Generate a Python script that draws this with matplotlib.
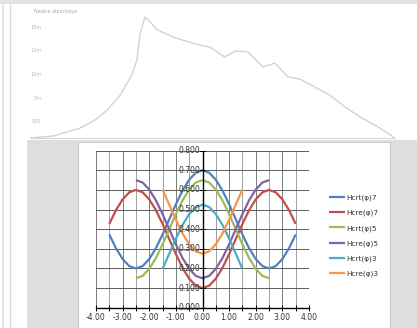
import matplotlib
matplotlib.use("Agg")
import matplotlib.pyplot as plt
from matplotlib.patches import Rectangle

W, H = 417, 328

# ---------------- data ----------------
# background (faded) chart
bg_x = [0, 6.3, 13.7, 17.8, 21.1, 24.7, 27.9, 29.3, 30.1, 31.5, 32.9, 34.8, 39.7, 45.2,
        49.3, 53.4, 56.2, 59.7, 63.8, 67.1, 70.7, 74.0, 78.1, 82.2, 86.3, 90.4, 95.9, 100.0]
bg_y = [14, 18, 35, 52, 73, 105, 148, 180, 233, 271, 261, 244, 227, 214,
        207, 186, 199, 197, 165, 173, 144, 139, 122, 105, 80, 59, 35, 14]
bg_ticks = [50, 100, 150, 200, 250]

# foreground chart
phi7 = [-3.5, -3.25, -3.0, -2.75, -2.5, -2.25, -2.0, -1.75, -1.5, -1.25, -1.0, -0.75, -0.5, -0.25,
        0.0, 0.25, 0.5, 0.75, 1.0, 1.25, 1.5, 1.75, 2.0, 2.25, 2.5, 2.75, 3.0, 3.25, 3.5]
hcrt7 = [0.373, 0.303, 0.248, 0.212, 0.200, 0.212, 0.248, 0.303, 0.373, 0.450, 0.527, 0.597, 0.652, 0.688,
         0.700, 0.688, 0.652, 0.597, 0.527, 0.450, 0.373, 0.303, 0.248, 0.212, 0.200, 0.212, 0.248, 0.303, 0.373]
hcre7 = [0.427, 0.497, 0.552, 0.588, 0.600, 0.588, 0.552, 0.497, 0.427, 0.350, 0.273, 0.203, 0.148, 0.112,
         0.100, 0.112, 0.148, 0.203, 0.273, 0.350, 0.427, 0.497, 0.552, 0.588, 0.600, 0.588, 0.552, 0.497, 0.427]

phi5 = [-2.5, -2.25, -2.0, -1.75, -1.5, -1.25, -1.0, -0.75, -0.5, -0.25,
        0.0, 0.25, 0.5, 0.75, 1.0, 1.25, 1.5, 1.75, 2.0, 2.25, 2.5]
hcrt5 = [0.150, 0.162, 0.198, 0.253, 0.323, 0.400, 0.477, 0.547, 0.602, 0.638,
         0.650, 0.638, 0.602, 0.547, 0.477, 0.400, 0.323, 0.253, 0.198, 0.162, 0.150]
hcre5 = [0.650, 0.638, 0.602, 0.547, 0.477, 0.400, 0.323, 0.253, 0.198, 0.162,
         0.150, 0.162, 0.198, 0.253, 0.323, 0.400, 0.477, 0.547, 0.602, 0.638, 0.650]

phi3 = [-1.5, -1.25, -1.0, -0.75, -0.5, -0.25, 0.0, 0.25, 0.5, 0.75, 1.0, 1.25, 1.5]
hcrt3 = [0.198, 0.275, 0.352, 0.422, 0.477, 0.513, 0.525, 0.513, 0.477, 0.422, 0.352, 0.275, 0.198]
hcre3 = [0.602, 0.525, 0.448, 0.378, 0.323, 0.287, 0.275, 0.287, 0.323, 0.378, 0.448, 0.525, 0.602]

labels = ["Hcrt(φ)7", "Hcre(φ)7", "Hcrt(φ)5", "Hcre(φ)5", "Hcrt(φ)3", "Hcre(φ)3"]
colors = ["#4F81BD", "#C0504D", "#9BBB59", "#8064A2", "#4BACC6", "#F79646"]
x_ticks = [-4, -3, -2, -1, 0, 1, 2, 3, 4]
y_ticks = [0.0, 0.1, 0.2, 0.3, 0.4, 0.5, 0.6, 0.7, 0.8]

# ---------------- figure ----------------
fig = plt.figure(figsize=(W / 100, H / 100), dpi=100)
fig.patch.set_facecolor("white")

def rect(x0, y0, x1, y1, **kw):
    # pixel coords, image origin top-left
    fig.patches.append(Rectangle((x0 / W, 1 - y1 / H), (x1 - x0) / W, (y1 - y0) / H,
                                 transform=fig.transFigure, figure=fig, **kw))

# top strip and left strip of the screenshot
rect(0, 0, W, 4, facecolor="#e4e4e4", edgecolor="none", zorder=-5)
fig.add_artist(plt.Line2D([3 / W, 3 / W], [0, 1], color="#e2e2e2", lw=1.2, transform=fig.transFigure, zorder=-4))
fig.add_artist(plt.Line2D([10 / W, 10 / W], [0, 1 - 4 / H], color="#dcdcdc", lw=1.0, transform=fig.transFigure, zorder=-4))

# background faded chart
axb = fig.add_axes([30 / W, 1 - 138 / H, 365 / W, 128 / H])
axb.set_zorder(-3)
axb.patch.set_alpha(0)
axb.plot(bg_x, bg_y, color="#d2d2d2", lw=1.0, solid_joinstyle="round")
axb.set_xlim(0, 100)
axb.set_ylim(14, 286)
axb.set_yticks(bg_ticks)
axb.set_yticklabels(["500", "5m", "10m", "12m", "15m"], fontsize=3.5, color="#b8b8b8")
axb.tick_params(axis="y", length=0, pad=-8)
axb.set_xticks([])
for s in ["top", "right", "left"]:
    axb.spines[s].set_visible(False)
axb.spines["bottom"].set_color("#d8d8d8")
fig.text(34 / W, 1 - 12 / H, "Nadira dibochayo", fontsize=3.5, color="#a8a8a8", va="center")

# gray textured area
rect(27, 140, W, H, facecolor="#dedede", edgecolor="none", zorder=-2)
# foreground white box
rect(78, 142, 390, H + 2, facecolor="white", edgecolor="#cccccc", lw=0.8, zorder=-1)

# foreground chart
ax = fig.add_axes([96 / W, 1 - 307.7 / H, 213 / W, 157 / H])
ax.set_zorder(2)
ax.patch.set_alpha(0)
ax.set_xlim(-4, 4)
ax.set_ylim(0, 0.8)
for v in [i * 0.5 for i in range(-8, 9)]:
    ax.axvline(v, color="#7c7c7c" if v % 1 == 0 else "#a0a0a0", lw=0.7, zorder=1)
for v in y_ticks:
    ax.axhline(v, color="#5a5a5a", lw=0.7, zorder=1)

series = [(phi7, hcrt7), (phi7, hcre7), (phi5, hcrt5), (phi5, hcre5), (phi3, hcrt3), (phi3, hcre3)]
handles = []
for (xs, ys), lab, c in zip(series, labels, colors):
    h, = ax.plot(xs, ys, color=c, lw=1.6, label=lab, zorder=3,
                 solid_capstyle="butt", solid_joinstyle="round")
    handles.append(h)

for s in ["top", "right", "left"]:
    ax.spines[s].set_visible(False)
ax.spines["bottom"].set_position(("data", 0))
ax.spines["bottom"].set_color("black")
ax.spines["bottom"].set_linewidth(1.0)
ax.axvline(0, color="black", lw=1.0, zorder=4)

ax.set_xticks(x_ticks)
ax.set_xticklabels([f"{v:.2f}" for v in x_ticks], fontsize=5.5, color="#333333")
ax.set_xticks([i * 0.5 for i in range(-8, 9)], minor=True)
ax.tick_params(axis="x", which="both", direction="inout", length=4, width=0.7, pad=2)
ax.set_yticks([])
for v in y_ticks:
    ax.text(-0.07, v, f"{v:.3f}", fontsize=5.5, color="#333333", ha="right", va="center", zorder=5)
    ax.plot([-0.09, 0.09], [v, v], color="black", lw=0.7, zorder=4)

leg = fig.legend(handles=handles, labels=labels, loc="upper left",
                 bbox_to_anchor=(322 / W, 1 - 188 / H), frameon=False, fontsize=5.3,
                 handlelength=2.2, handletextpad=0.2, labelspacing=1.15, labelcolor="#333333")
leg.set_zorder(3)

fig.savefig("out.png", dpi=100)
